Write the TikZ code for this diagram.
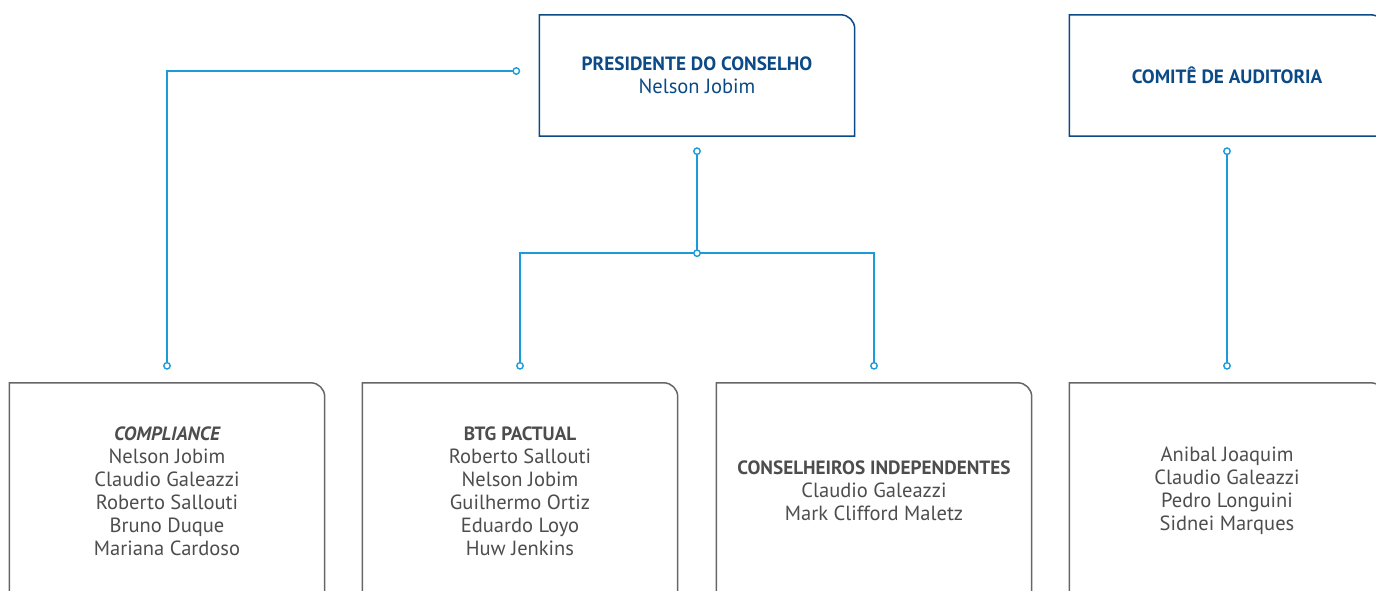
\documentclass[tikz,border=0pt]{standalone}
\usepackage{fontspec}
\setmainfont{PT Sans}
\usepackage{xcolor}

\definecolor{navy}{HTML}{0B4A86}
\definecolor{frame}{HTML}{666666}
\definecolor{ink}{HTML}{4D4D4D}
\definecolor{wire}{HTML}{1B9BDA}
\newcommand{\headfont}{\fontsize{19.3}{23}\selectfont\bfseries}
\newcommand{\namefont}{\fontsize{20.6}{23}\selectfont}

\begin{document}
\begin{tikzpicture}[x=1bp, y=1bp,
        topbox/.style={minimum width=315bp, minimum height=121bp, align=center, inner sep=0pt, text=navy, font=\namefont},
        lowbox/.style={minimum width=315bp, minimum height=216bp, align=center, inner sep=0pt, text=ink, font=\namefont},
        link/.style={wire, line width=1.8bp},
        dot/.style={wire, line width=1.4bp, fill=white}]
        \useasboundingbox (0,0) rectangle (1376,-591);
        \clip (0,0) rectangle (1376,-591);
        \node[topbox] (pres) at (697,-75.5) {{\headfont PRESIDENTE DO CONSELHO}\\Nelson Jobim};
        \node[topbox] (comite) at (1227,-75.5) {{\headfont COMITÊ DE AUDITORIA}};
        \node[lowbox] (comp) at (167,-491) {{\headfont\itshape COMPLIANCE}\\Nelson Jobim\\Claudio Galeazzi\\Roberto Sallouti\\Bruno Duque\\Mariana Cardoso};
        \node[lowbox] (btg) at (520,-491) {{\headfont BTG PACTUAL}\\Roberto Sallouti\\Nelson Jobim\\Guilhermo Ortiz\\Eduardo Loyo\\Huw Jenkins};
        \node[lowbox] (indep) at (874,-491) {{\headfont CONSELHEIROS INDEPENDENTES}\\Claudio Galeazzi\\Mark Clifford Maletz};
        \node[lowbox] (audit) at (1227,-491) {Anibal Joaquim\\Claudio Galeazzi\\Pedro Longuini\\Sidnei Marques};
        \foreach \n/\c in {pres/navy, comite/navy, comp/frame, btg/frame, indep/frame, audit/frame}{
        \draw[\c, line width=1.5bp] (\n.south west) -- (\n.north west) -- ([xshift=-14bp]\n.north east)
            arc[start angle=90, end angle=0, radius=14bp] -- (\n.south east) -- cycle;}
        \coordinate (pres-w) at ([shift={(-23,4.5)}]pres.west);
        \coordinate (pres-s) at ([yshift=-15bp]pres.south);
        \coordinate (fork) at ([yshift=-117bp]pres.south);
        \coordinate (comite-s) at ([yshift=-15bp]comite.south);
        \foreach \n in {comp, btg, indep, audit}{
        \coordinate (\n-n) at ([yshift=17bp]\n.north);}
        \draw[link] (pres-w) -| (comp-n);
        \draw[link] (pres-s) -- (fork);
        \draw[link] (btg-n) |- (fork) -| (indep-n);
        \draw[link] (comite-s) -- (audit-n);
        \foreach \p in {pres-w, comp-n, pres-s, fork, btg-n, indep-n, comite-s, audit-n}{
        \draw[dot] (\p) circle[radius=3.2bp];}
    \end{tikzpicture}
\end{document}
